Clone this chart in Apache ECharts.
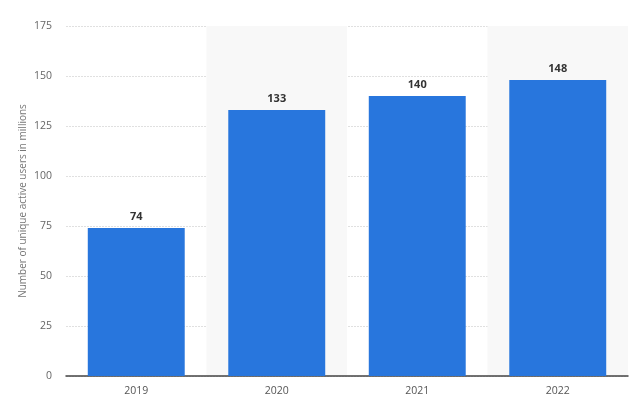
<!DOCTYPE html>
<html>
<head>
<meta charset="utf-8">
<script src="https://cdn.jsdelivr.net/npm/echarts@6/dist/echarts.min.js"></script>
<style>
html, body { margin: 0; padding: 0; background: #fff; }
#chart { width: 640px; height: 405px; }
</style>
</head>
<body>
<div id="chart"></div>
<script>
var years = ['2019', '2020', '2021', '2022'];
var users = [74, 133, 140, 148];
var yTicks = [0, 25, 50, 75, 100, 125, 150, 175];

var chart = echarts.init(document.getElementById('chart'));

var options = {
	animation: false,
	grid: { left: 66, right: 12, top: 26, bottom: 29 },
	xAxis: {
		type: 'category',
		data: years,
		axisLine: { lineStyle: { color: '#444', width: 1.5 } },
		axisTick: { show: false },
		axisLabel: { color: '#555', fontSize: 10.5, fontFamily: 'Open Sans', margin: 10 },
		splitArea: { show: true, areaStyle: { color: ['rgba(255,255,255,0)', '#f8f8f8'] } }
	},
	yAxis: {
		type: 'value',
		min: yTicks[0],
		max: yTicks[yTicks.length - 1],
		interval: 25,
		name: 'Number of unique active users in millions',
		nameLocation: 'middle',
		nameGap: 38,
		nameMoveOverlap: false,
		nameTextStyle: { color: '#777', fontSize: 10, fontFamily: 'Open Sans' },
		axisLine: { show: false },
		axisTick: { show: false },
		axisLabel: { color: '#666', fontSize: 10.5, fontFamily: 'Open Sans', margin: 14 },
		splitLine: { lineStyle: { color: '#e0e0e0', type: [2, 1] } }
	},
	series: [{
		type: 'bar',
		data: users,
		barWidth: '69%',
		itemStyle: { color: '#2876dd' },
		label: {
			show: true,
			position: 'top',
			distance: 6,
			color: '#333',
			fontSize: 11,
			fontWeight: 'bold',
			fontFamily: 'Open Sans'
		}
	}]
};

chart.setOption(options);
</script>
</body>
</html>
